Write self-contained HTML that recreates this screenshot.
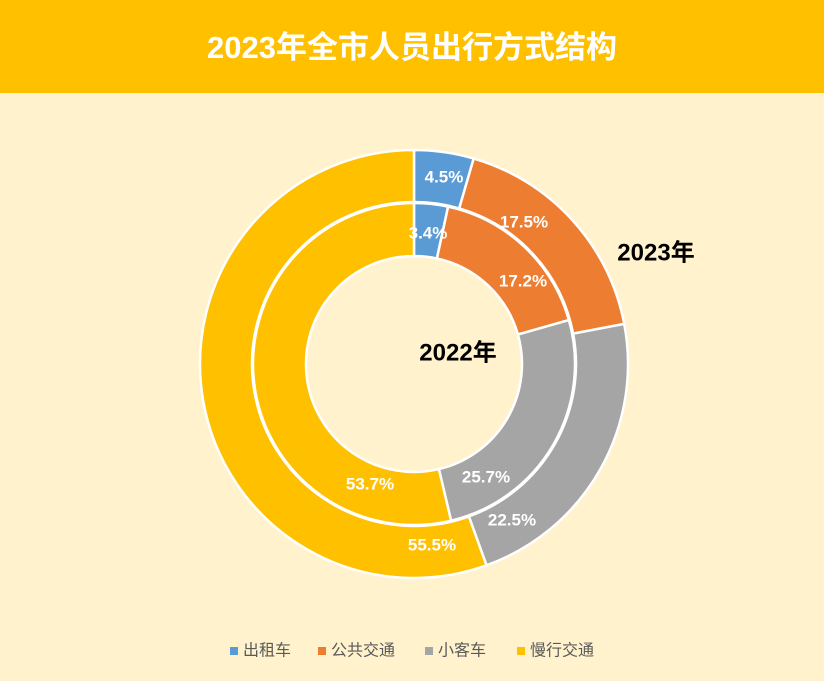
<!DOCTYPE html>
<html><head><meta charset="utf-8"><style>
body{margin:0;width:824px;height:681px;overflow:hidden;background:#FFF2CC;font-family:"Liberation Sans","Noto Sans CJK SC",sans-serif}
.hd{position:absolute;left:0;top:0;width:824px;height:93px;background:#FFC000;color:#fff;font-weight:bold;font-size:31px;text-align:center;line-height:96px;font-family:"Liberation Sans","Noto Sans CJK SC",sans-serif}
</style></head><body>
<div class="hd">2023年全市人员出行方式结构</div>
<svg id="s" width="824" height="681" style="position:absolute;left:0;top:0"></svg>
<script>
var cx=414,cy=364,s=document.getElementById('s'),h='';
var cols=['#5B9BD5','#ED7D31','#A5A5A5','#FFC000'];
function ring(vals,r0,r1){var a=0;vals.forEach(function(v,i){var b=a+v/100*2*Math.PI;
function p(r,t){return (cx+r*Math.sin(t)).toFixed(2)+' '+(cy-r*Math.cos(t)).toFixed(2)}
var l=(b-a)>Math.PI?1:0;
h+='<path d="M'+p(r1,a)+' A'+r1+' '+r1+' 0 '+l+' 1 '+p(r1,b)+' L'+p(r0,b)+' A'+r0+' '+r0+' 0 '+l+' 0 '+p(r0,a)+'Z" fill="'+cols[i]+'" stroke="#fff" stroke-width="2.5"/>';a=b;});}
ring([4.5,17.5,22.5,55.5],162,214);
ring([3.4,17.2,25.7,53.7],108,161);
var L=[[444,177,'4.5%'],[524,222,'17.5%'],[523,281,'17.2%'],[428,233,'3.4%'],[486,477,'25.7%'],[512,520,'22.5%'],[370,484,'53.7%'],[432,545,'55.5%']];
L.forEach(function(q){h+='<text x="'+q[0]+'" y="'+q[1]+'" fill="#fff" font-size="17" font-weight="bold" text-anchor="middle" dominant-baseline="central" font-family="Liberation Sans,sans-serif">'+q[2]+'</text>'});
h+='<text x="656" y="253" font-size="24" font-weight="bold" text-anchor="middle" dominant-baseline="central" font-family="Liberation Sans,Noto Sans CJK SC,sans-serif">2023年</text>';
h+='<text x="458" y="353" font-size="24" font-weight="bold" text-anchor="middle" dominant-baseline="central" font-family="Liberation Sans,Noto Sans CJK SC,sans-serif">2022年</text>';
var lg=[[230,'出租车'],[318,'公共交通'],[425,'小客车'],[517,'慢行交通']];
lg.forEach(function(q,i){h+='<rect x="'+q[0]+'" y="647" width="8" height="8" fill="'+cols[i]+'"/><text x="'+(q[0]+13)+'" y="651" font-size="16" fill="#595959" dominant-baseline="central" font-family="Liberation Sans,Noto Sans CJK SC,sans-serif">'+q[1]+'</text>'});
s.innerHTML=h;
</script>
</body></html>
